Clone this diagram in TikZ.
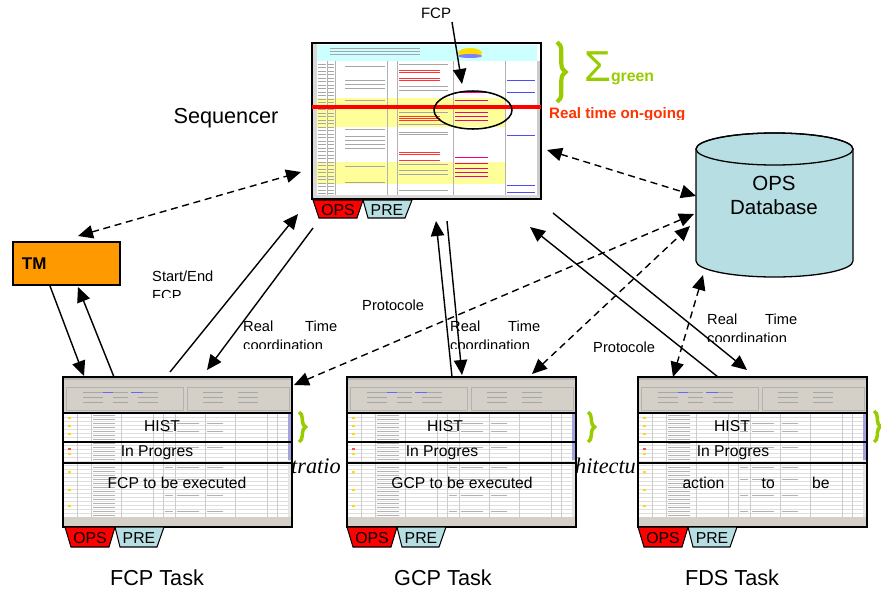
\documentclass[tikz,border=0pt]{standalone}
\usepackage{fontspec}
\setmainfont{Liberation Sans}
\newfontfamily\capserif{Liberation Serif}
\usepackage{tikz}
\usetikzlibrary{positioning}
\usetikzlibrary{arrows.meta, shapes, calc, decorations.pathreplacing}
\definecolor{tmorange}{HTML}{FF9900}
\definecolor{dbcyan}{HTML}{B7DEE3}
\definecolor{sigmagreen}{HTML}{99CC00}
\definecolor{ongoing}{HTML}{FF3300}
\definecolor{rowyellow}{HTML}{FFFF99}
\definecolor{hdrcyan}{HTML}{CCFFFF}
\definecolor{wingray}{HTML}{D4D0C8}
\definecolor{tabred}{HTML}{FF0000}
\definecolor{scrollblue}{HTML}{A4A4DC}
\tikzstyle{arrow} = [line width=1.2pt,-{Triangle[length=0.45cm,width=0.4cm]}]
\tikzstyle{dasharrow} = [line width=1.2pt,dash pattern=on 6pt off 4pt,{Triangle[length=0.45cm,width=0.4cm]}-{Triangle[length=0.45cm,width=0.4cm]}]
\tikzstyle{lbl} = [inner sep=0pt, font=\fontsize{12.5}{15.5}\selectfont]
\tikzstyle{title} = [inner sep=0pt, font=\fontsize{18.5}{20}\selectfont]
\tikzstyle{band} = [inner sep=0pt, font=\fontsize{13.4}{14}\selectfont]
\tikzstyle{tabtext} = [inner sep=0pt, font=\fontsize{13.5}{14}\selectfont]
\tikzstyle{greenbrace} = [sigmagreen, line width=3pt, decorate, decoration={brace, amplitude=0.26cm}]

% OPS / PRE tabs under a screenshot: x, y, height, name
\newcommand{\opspre}[4]{%
  \draw[fill=tabred, line width=0.9pt] (#1,#2) -- (#1+50,#2) -- (#1+44,#2+#3) -- (#1+6,#2+#3) -- cycle;
  \draw[fill=dbcyan, line width=0.9pt] (#1+50,#2) -- (#1+99,#2) -- (#1+92,#2+#3) -- (#1+55,#2+#3) -- cycle;
  \node[tabtext] (#4ops) at (#1+25,#2+#3/2+1) {OPS};
  \node[tabtext] (#4pre) at (#1+74,#2+#3/2+1) {PRE};
}

% task window screenshot, left edge at x
\newcommand{\taskshot}[1]{%
  \begin{scope}[shift={(#1,0)}]
    \fill[wingray] (0,377) rectangle (229,413);
    \fill[gray!55] (0,377) rectangle (229,380);
    \draw[gray!60, line width=0.3pt] (3,387) rectangle (120,410) (124,387) rectangle (226,410);
    \foreach \y in {392,397,402}
      \draw[gray!70, line width=0.4pt] (20,\y) -- (40,\y) (50,\y) -- (65,\y) (75,\y) -- (95,\y) (140,\y) -- (160,\y) (175,\y) -- (195,\y);
    \draw[blue!60, line width=0.5pt] (40,392) -- (50,392) (68,392) -- (80,392);
    \fill[white] (0,413) rectangle (229,517);
    \foreach \y in {417,421,...,515}
      \draw[gray!25, line width=0.3pt] (0,\y) -- (225,\y);
    \foreach \x in {14,28,58,90,100,112,142,172,204,214}
      \draw[gray!40, line width=0.3pt] (\x,413) -- (\x,517);
    \foreach \y in {415,419,...,515}
      \draw[gray!60, line width=0.4pt] (30,\y) -- (52,\y);
    \foreach \y in {423,431,447,467,479,495,511}
      \draw[gray!60, line width=0.4pt] (102,\y) -- (110,\y) (114,\y) -- (136,\y) (144,\y) -- (160,\y);
    \foreach \y in {417,425,433,441,453,471,489,505}
      \fill[yellow!80!orange] (5,\y) rectangle (8,\y+2);
    \fill[red!70] (5,448) rectangle (8,450);
    \fill[scrollblue] (225,413) rectangle (229,460);
    \fill[gray!20] (225,460) rectangle (229,517);
    \fill[wingray] (0,517) rectangle (229,527);
    \draw[line width=1.1pt] (0,413) rectangle (229,442) (0,442) rectangle (229,463);
    \draw[line width=1.3pt] (0,377) rectangle (229,527);
  \end{scope}
}

\begin{document}
\begin{tikzpicture}[x=0.03cm, y=-0.03cm]
\useasboundingbox (0,0) rectangle (881,591);

% caption words showing between the task windows
\node[inner sep=0pt, anchor=base west, font=\capserif\itshape\fontsize{19}{20}\selectfont] (capA) at (291,473) {tratio};
\node[inner sep=0pt, anchor=base west, font=\capserif\itshape\fontsize{19}{20}\selectfont] (capB) at (575,473) {hitectu};

% sequencer screenshot
\draw[fill=white] (312,43) rectangle (541,199);
\fill[hdrcyan] (317,45) rectangle (537,61);
\fill[yellow!80!orange] (470,53) ellipse [x radius=12, y radius=5];
\fill[blue!50] (470,56) ellipse [x radius=12, y radius=2];
\foreach \y in {48,51,54} \draw[gray!70, line width=0.4pt] (330,\y) -- (420,\y);
\fill[gray!30] (312,43) rectangle (317,199);
\fill[rowyellow] (317,98) rectangle (505,105);
\fill[rowyellow] (317,108) rectangle (505,127);
\fill[rowyellow] (317,162) rectangle (505,184);
\foreach \x in {327,335,387,397,453,505,537}
  \draw[gray!60, line width=0.3pt] (\x,61) -- (\x,196);
\foreach \y in {64,67.5,...,194}
  \draw[gray!70, line width=0.4pt] (318,\y) -- (326,\y) (328,\y) -- (334,\y);
\foreach \y in {66,80,84,88,100,129,136,140,144,148,166,182}
  \draw[gray!70, line width=0.4pt] (345,\y) -- (385,\y);
\foreach \y in {64,86,90,112,124,132,134,164,170,174,190}
  \draw[gray!70, line width=0.4pt] (399,\y) -- (448,\y);
\foreach \y in {70,72,78,80,116,118,120,152,154,160}
  \draw[red!80, line width=0.5pt] (399,\y) -- (440,\y);
\foreach \y in {92,100,112,116,120,157,163,168,172,176}
  \draw[magenta, line width=0.5pt] (455,\y) -- (488,\y);
\foreach \y in {80,92,135,185,192}
  \draw[blue!70, line width=0.5pt] (507,\y) -- (535,\y);
\fill[gray!40] (537,61) rectangle (541,196);
\fill[gray!30] (312,195) rectangle (541,199);
\draw[line width=1.2pt] (312,43) rectangle (541,199);
\draw[red, line width=3.6pt] (312,107) -- (541,107);
\draw[line width=1.3pt] (473,110) ellipse [x radius=39, y radius=19];
\opspre{313}{200}{18}{seq}

% task screenshots
\taskshot{63}
\taskshot{347}
\taskshot{638}
\opspre{65}{527}{20}{fcp}
\opspre{347}{527}{20}{gcp}
\opspre{638}{527}{20}{fds}

\node[band] (hist1) at (162,426) {HIST};
\node[band] (prog1) at (157,453) {In Progres};
\node[band] (todo1) at (177,483) {FCP to be executed};
\node[band] (hist2) at (445,426) {HIST};
\node[band] (prog2) at (442,453) {In Progres};
\node[band] (todo2) at (462,483) {GCP to be executed};
\node[band] (hist3) at (732,426) {HIST};
\node[band] (prog3) at (733,453) {In Progres};
\node[band] (todo3) at (756,483) {\makebox[4.41cm][s]{action to be}};

% green braces
\draw[greenbrace, line width=3.6pt] (557,42) -- (557,102);
\draw[greenbrace, decoration={brace, amplitude=0.2cm}] (299,412) -- (299,442);
\draw[greenbrace, decoration={brace, amplitude=0.2cm}] (588,412) -- (588,442);
\draw[greenbrace, decoration={brace, amplitude=0.2cm}] (874,411) -- (874,442);
\node[inner sep=0pt, anchor=base west, text=sigmagreen] (sigma) at (584,81)
  {{\fontsize{37}{37}\selectfont Σ}{\bfseries\fontsize{13.5}{14}\selectfont green}};

% OPS database
\draw[fill=dbcyan, line width=1.1pt] (696,149) -- (696,261) arc[start angle=180, end angle=0, x radius=78.5, y radius=16] -- (853,149) arc[start angle=0, end angle=-180, x radius=78.5, y radius=16] -- cycle;
\draw[line width=1.1pt] (774.5,149) ellipse [x radius=78.5, y radius=16];
\node[inner sep=0pt, align=center, font=\fontsize{17.5}{20.5}\selectfont] (db) at (774,195) {OPS\\Database};

% TM
\node[draw, fill=tmorange, line width=1.1pt, minimum width=3.21cm, minimum height=1.29cm, inner xsep=0.27cm, text width=2.67cm, align=left, font=\bfseries\fontsize{14.5}{15}\selectfont] (tm) at (66.5,263.5) {TM};

% titles
\node[title] (seqname) at (226,118) {Sequencer};
\node[title] (fcptask) at (157,578) {FCP Task};
\node[title] (gcptask) at (443,578) {GCP Task};
\node[title] (fdstask) at (732,578) {FDS Task};
\node[inner sep=0pt, font=\fontsize{12.8}{13}\selectfont] (fcpname) at (436,13) {FCP};
\begin{scope}
  \clip (545,100) rectangle (700,119);
  \node[inner sep=0pt, anchor=base west, text=ongoing, font=\bfseries\fontsize{12.9}{13}\selectfont] (ongo) at (549,118.5) {Real time on-going};
\end{scope}

% link labels
\begin{scope}
  \clip (145,265) rectangle (235,297);
  \node[lbl, anchor=north west, align=left, font=\fontsize{12.5}{15.8}\selectfont] (startend) at (152,271) {Start/End\\FCP};
\end{scope}
\begin{scope}
  \clip (238,312) rectangle (345,348);
  \node[lbl, anchor=north west, align=left] (rt1) at (243,321) {\makebox[2.82cm][s]{Real Time}\\coordination};
\end{scope}
\begin{scope}
  \clip (445,312) rectangle (548,348);
  \node[lbl, anchor=north west, align=left] (rt2) at (450,321) {\makebox[2.7cm][s]{Real Time}\\coordination};
\end{scope}
\begin{scope}
  \clip (702,305) rectangle (805,341);
  \node[lbl, anchor=north west, align=left] (rt3) at (707,314) {\makebox[2.7cm][s]{Real Time}\\coordination};
\end{scope}
\node[lbl, anchor=west] (proto1) at (362,305) {Protocole};
\node[lbl, anchor=west] (proto2) at (593,347) {Protocole};

% end points
\coordinate (fcpTail) at (452,22);
\coordinate (fcpTip) at (462,84);
\coordinate (seqW) at (301,172);
\coordinate (tmN) at (78,236);
\coordinate (tmS1) at (50,286);
\coordinate (fcpN1) at (84,376);
\coordinate (fcpN2) at (114,377);
\coordinate (tmS2) at (78,287);
\coordinate (fcpN3) at (170,372);
\coordinate (seqS1) at (298,214);
\coordinate (seqS2) at (313,228);
\coordinate (fcpN4) at (207,370);
\coordinate (gcpN1) at (452,377);
\coordinate (seqS3) at (436,221);
\coordinate (seqS4) at (447,221);
\coordinate (gcpN2) at (462,375);
\coordinate (fdsN1) at (718,377);
\coordinate (seqS5) at (530,227);
\coordinate (seqS6) at (553,213);
\coordinate (fdsN2) at (747,370);
\coordinate (seqE) at (547,150);
\coordinate (dbW1) at (696,196);
\coordinate (fcpNE) at (294,385);
\coordinate (dbW2) at (694,214);
\coordinate (gcpNE) at (532,374);
\coordinate (dbW3) at (690,226);
\coordinate (dbS) at (703,275);
\coordinate (fdsNW) at (673,377);

% connectors
\draw[arrow] (fcpTail) -- (fcpTip);
\draw[dasharrow] (tmN) -- (seqW);
\draw[arrow] (tmS1) -- (fcpN1);
\draw[arrow] (fcpN2) -- (tmS2);
\draw[arrow] (fcpN3) -- (seqS1);
\draw[arrow] (seqS2) -- (fcpN4);
\draw[arrow] (gcpN1) -- (seqS3);
\draw[arrow] (seqS4) -- (gcpN2);
\draw[arrow] (fdsN1) -- (seqS5);
\draw[arrow] (seqS6) -- (fdsN2);
\draw[dasharrow] (seqE) -- (dbW1);
\draw[dasharrow] (fcpNE) -- (dbW2);
\draw[dasharrow] (gcpNE) -- (dbW3);
\draw[dasharrow] (dbS) -- (fdsNW);
\end{tikzpicture}
\end{document}
